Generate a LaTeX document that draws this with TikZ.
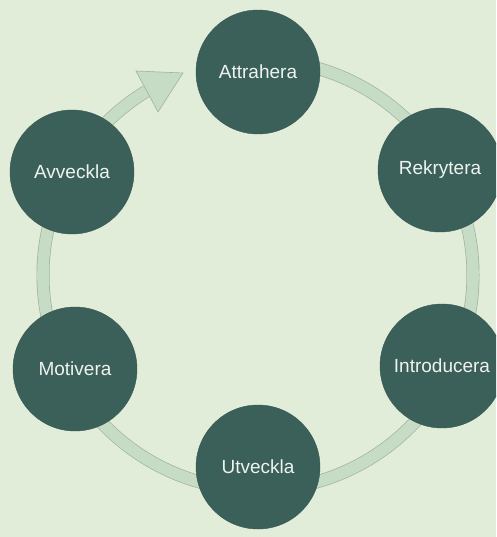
\documentclass[tikz,border=0pt]{standalone}
\usepackage{fontspec}
\setmainfont{Liberation Sans}
\definecolor{bgc}{HTML}{E1ECD9}
\definecolor{ringc}{HTML}{C6DCC4}
\definecolor{ringline}{HTML}{9DB59B}
\definecolor{nodec}{HTML}{3B605A}
\definecolor{textc}{HTML}{EEF3EE}
\tikzset{
  stage/.style={circle, fill=nodec, draw=nodec!90!black, line width=0.4pt, minimum size=124pt, inner sep=0pt, text=textc, font=\fontsize{19}{22}\selectfont},
}
\begin{document}
\begin{tikzpicture}[x=1pt,y=-1pt]
\fill[bgc] (0,0) rectangle (496,537);
\useasboundingbox (0,0) rectangle (496,537);
\clip (0,0) rectangle (496,537);
\coordinate (ctr) at (258,275);
% ring band
\draw[ringline, line width=13pt] ([shift={(-90:215)}]ctr) arc[start angle=-90, end angle=238.8, radius=215];
\draw[ringc, line width=11.6pt] ([shift={(-90:215)}]ctr) arc[start angle=-90, end angle=239.2, radius=215];
% arrowhead
\coordinate (tipA) at (183,73);
\coordinate (baseA) at (136,71);
\coordinate (baseB) at (158,112);
\filldraw[fill=ringc, draw=ringline, line width=0.6pt, line join=miter] (baseA) -- (tipA) -- (baseB) -- cycle;
% stages
\node[stage] (att) at (258,72) {Attrahera};
\node[stage] (rek) at (440,170) {Rekrytera};
\node[stage] (int) at (442,366) {Introducera};
\node[stage] (utv) at (258,467) {Utveckla};
\node[stage] (mot) at (75,369) {Motivera};
\node[stage] (avv) at (72,172) {Avveckla};
\end{tikzpicture}
\end{document}
